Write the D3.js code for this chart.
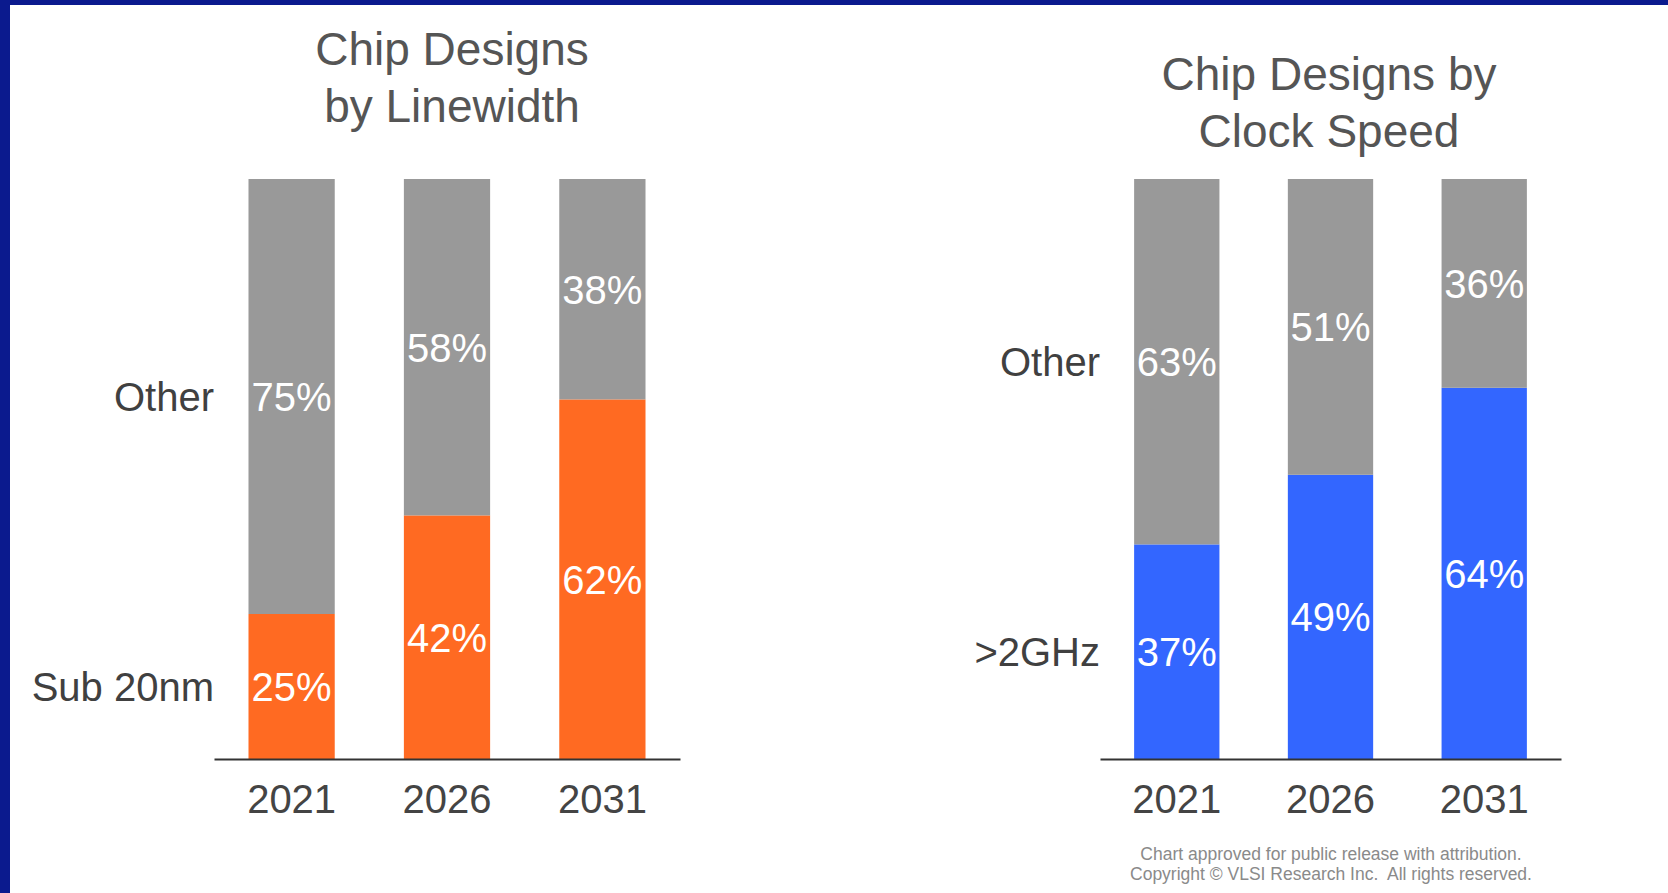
<!DOCTYPE html>
<html>
<head>
<meta charset="utf-8">
<script src="https://cdn.jsdelivr.net/npm/d3@7/dist/d3.min.js"></script>
<style>
  html, body { margin: 0; padding: 0; background: #ffffff; }
  svg { display: block; }
  text { font-family: "Liberation Sans", Arial, Helvetica, sans-serif; }
</style>
</head>
<body>
<svg id="chart" width="1668" height="893"></svg>
<script>
// Forecast years shared by both panels
const years = ["2021", "2026", "2031"];

// Panel 1: chip designs by linewidth (percent of designs)
const linewidthTitle = ["Chip Designs", "by Linewidth"];
const linewidthSeries = ["Sub 20nm", "Other"];
const sub20nm = [25, 42, 62];
const linewidthOther = [75, 58, 38];

// Panel 2: chip designs by clock speed (percent of designs)
const clockTitle = ["Chip Designs by", "Clock Speed"];
const clockSeries = [">2GHz", "Other"];
const over2GHz = [37, 49, 64];
const clockOther = [63, 51, 36];

const footnote = [
  "Chart approved for public release with attribution.",
  "Copyright \u00A9 VLSI Research Inc.  All rights reserved."
];

const svg = d3.select("#chart");

// Frame: blue rule along the top and left edge
svg.append("rect").attr("x", 0).attr("y", 0).attr("width", 1668).attr("height", 893).attr("fill", "#ffffff");
svg.append("rect").attr("x", 0).attr("y", 0).attr("width", 1668).attr("height", 5).attr("fill", "#0b1a8e");
svg.append("rect").attr("x", 0).attr("y", 0).attr("width", 10).attr("height", 893).attr("fill", "#0b1a8e");

const y = d3.scaleLinear().domain([0, 100]).range([759, 179]);

function drawPanel(cfg) {
  const g = svg.append("g");
  const x = d3.scaleBand()
    .domain(years)
    .range([cfg.x0, cfg.x1])
    .paddingInner(0.445)
    .paddingOuter(0.222);

  const rows = years.map((yr, i) => ({ year: yr, low: cfg.low[i], high: cfg.high[i] }));
  const stack = d3.stack().keys(["low", "high"])(rows);
  const colors = { low: cfg.color, high: "#999999" };

  // Stacked segments
  stack.forEach(layer => {
    g.selectAll(null)
      .data(layer)
      .join("rect")
      .attr("x", d => x(d.data.year))
      .attr("width", x.bandwidth())
      .attr("y", d => y(d[1]))
      .attr("height", d => y(d[0]) - y(d[1]))
      .attr("fill", colors[layer.key]);

    // Value labels centred in each segment
    g.selectAll(null)
      .data(layer)
      .join("text")
      .attr("x", d => x(d.data.year) + x.bandwidth() / 2)
      .attr("y", d => (y(d[0]) + y(d[1])) / 2)
      .attr("dy", "0.36em")
      .attr("text-anchor", "middle")
      .attr("font-size", 40)
      .attr("fill", "#ffffff")
      .text(d => (d[1] - d[0]) + "%");
  });

  // Series labels beside the first bar
  const first = stack.map(layer => layer[0]);
  g.selectAll(null)
    .data(first)
    .join("text")
    .attr("x", cfg.x0)
    .attr("y", d => (y(d[0]) + y(d[1])) / 2)
    .attr("dy", "0.36em")
    .attr("text-anchor", "end")
    .attr("font-size", 40)
    .attr("fill", "#404040")
    .text((d, i) => cfg.series[i]);

  // Baseline axis with year labels
  const axis = g.append("g")
    .attr("transform", `translate(0,${y(0)})`)
    .call(d3.axisBottom(x).tickSize(0).tickPadding(0).tickSizeOuter(0));
  axis.select(".domain").attr("stroke", "#333333").attr("stroke-width", 2);
  axis.selectAll(".tick text")
    .attr("y", 54)
    .attr("dy", 0)
    .attr("font-size", 40)
    .attr("font-family", "'Liberation Sans', Arial, sans-serif")
    .attr("fill", "#444444");

  // Two-line title
  g.selectAll(null)
    .data(cfg.title)
    .join("text")
    .attr("x", cfg.titleX)
    .attr("y", (d, i) => cfg.titleY + i * 56.7)
    .attr("text-anchor", "middle")
    .attr("font-size", 46)
    .attr("fill", "#555555")
    .text(d => d);
}

drawPanel({
  x0: 214, x1: 680,
  low: sub20nm, high: linewidthOther,
  color: "#ff6a22",
  series: linewidthSeries,
  title: linewidthTitle, titleX: 452, titleY: 65
});

drawPanel({
  x0: 1100, x1: 1561,
  low: over2GHz, high: clockOther,
  color: "#3366ff",
  series: clockSeries,
  title: clockTitle, titleX: 1329, titleY: 90
});

// Attribution note
svg.append("g").selectAll("text")
  .data(footnote)
  .join("text")
  .attr("x", 1331)
  .attr("y", (d, i) => 860 + i * 20)
  .attr("text-anchor", "middle")
  .attr("font-size", 17.5)
  .attr("fill", "#8a8a8a")
  .style("white-space", "pre")
  .text(d => d);
</script>
</body>
</html>
